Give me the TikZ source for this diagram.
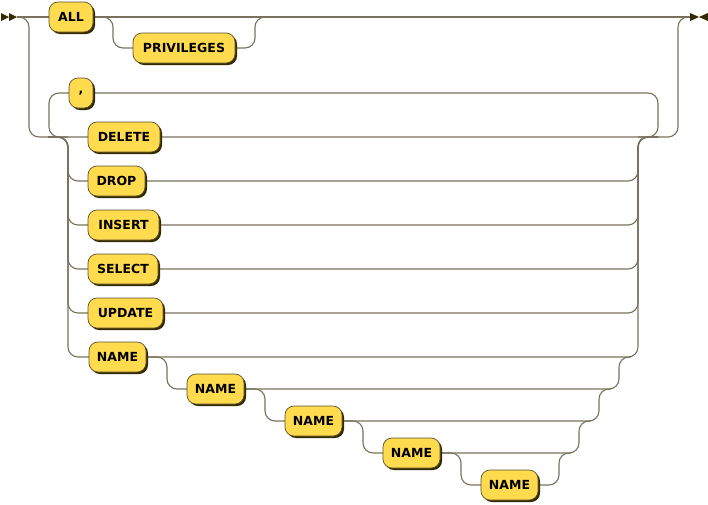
\documentclass[tikz,border=0pt]{standalone}
\usepackage{fontspec}
\newfontfamily\rrfont{DejaVu Sans}
\usetikzlibrary{shadows}
\definecolor{rline}{RGB}{120,113,92}
\definecolor{rfill}{HTML}{FFDB4D}
\definecolor{rshadow}{HTML}{332900}
\definecolor{rborder}{RGB}{90,80,45}
\begin{document}
\begin{tikzpicture}[x=1pt,y=-1pt,
  conn/.style={draw=rline, line width=1.1pt, rounded corners=10pt},
  term/.style={rectangle, rounded corners=9pt, draw=rborder, line width=0.7pt,
    fill=rfill, minimum height=30pt, inner sep=0pt,
    font=\rrfont\bfseries\fontsize{12.5}{14}\selectfont,
    drop shadow={shadow xshift=2pt, shadow yshift=-2pt, fill=rshadow, opacity=1, draw=none}},
  tip/.style={fill=rshadow}]
\useasboundingbox (0,0) rectangle (708,504);
% start / end
\coordinate (start) at (17,17);
\coordinate (end) at (690,17);
\fill[tip] (1,13) -- (9,17) -- (1,21) -- cycle;
\fill[tip] (9,13) -- (17,17) -- (9,21) -- cycle;
\fill[tip] (690,13) -- (699,17) -- (690,21) -- cycle;
\fill[tip] (708,13) -- (699,17) -- (708,21) -- cycle;
% junctions
\coordinate (jl) at (48,137);
\coordinate (jr) at (658,137);
% lines drawn first
\path[conn] (start) -- (49,17);
\path[conn] (93,17) -- (end);
\path[conn] (93,17) -- (113,17) -- (113,48) -- (133,48);
\path[conn] (235,48) -- (255,48) -- (255,17) -- (275,17);
\path[conn] (start) -- (29,17) -- (29,137) -- (88,137);
\path[conn] (638,137) -- (658,137) -- (658,93) -- (93,93);
\path[conn] (69,93) -- (49,93) -- (49,137) -- (68,137);
\path[conn] (160,137) -- (678,137) -- (678,17) -- (end);
\foreach \y/\xe in {181/145,225/159,269/158,313/163,357/146} {
  \path[conn] (jl) -- (68,137) -- (68,\y) -- (89,\y);
  \path[conn] (\xe,\y) -- (638,\y) -- (638,137) -- (jr);
}
\foreach \k/\r in {0/619,1/599,2/579,3/559} {
  \pgfmathsetmacro\ya{357+32*\k}
  \pgfmathsetmacro\yb{357+32*(\k+1)}
  \pgfmathsetmacro\xb{167+98*\k}
  \pgfmathsetmacro\xe{146+98*\k}
  \pgfmathsetmacro\xn{146+98*(\k+1)}
  \path[conn] (\xe,\ya) -- (\xb,\ya) -- (\xb,\yb) -- (\xb+20,\yb);
  \path[conn] (\xn,\yb) -- (\r,\yb) -- (\r,\ya) -- (\r+12,\ya);
}
% terminals
\node[term, minimum width=44pt] (all) at (71,17) {ALL};
\node[term, minimum width=102pt] (priv) at (184,48) {PRIVILEGES};
\node[term, minimum width=24pt] (comma) at (81,93) {,};
\node[term, minimum width=72pt] (delete) at (124,137) {DELETE};
\node[term, minimum width=57pt] (drop) at (116.5,181) {DROP};
\node[term, minimum width=71pt] (insert) at (123.5,225) {INSERT};
\node[term, minimum width=70pt] (select) at (123,269) {SELECT};
\node[term, minimum width=75pt] (update) at (125.5,313) {UPDATE};
\node[term, minimum width=57pt] (nameA) at (117.5,357) {NAME};
\node[term, minimum width=57pt] (nameB) at (215.5,389) {NAME};
\node[term, minimum width=57pt] (nameC) at (313.5,421) {NAME};
\node[term, minimum width=57pt] (nameD) at (411.5,453) {NAME};
\node[term, minimum width=57pt] (nameE) at (509.5,485) {NAME};
\end{tikzpicture}
\end{document}
